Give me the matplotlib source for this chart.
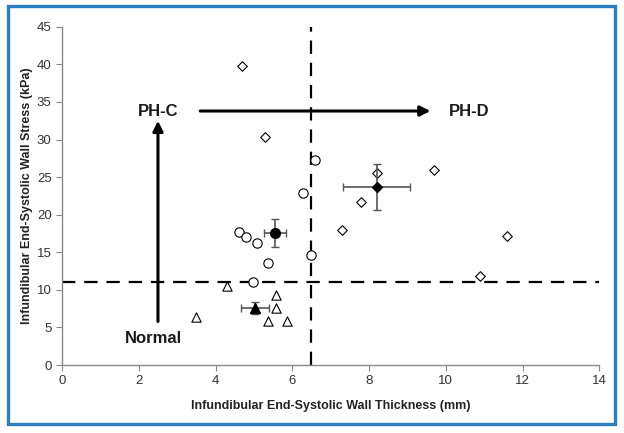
import matplotlib
matplotlib.use("Agg")
import matplotlib.pyplot as plt
from matplotlib.patches import Rectangle

plt.rcParams['font.family'] = ['Liberation Sans', 'DejaVu Sans']

# Data
diamond_x = [4.7, 5.3, 8.2, 7.8, 7.3, 9.7, 11.6, 10.9]
diamond_y = [39.8, 30.3, 25.5, 21.7, 18.0, 26.0, 17.2, 11.8]
circle_x = [6.58, 6.27, 4.6, 4.79, 5.08, 5.38, 6.48, 4.97]
circle_y = [27.3, 22.9, 17.75, 17.0, 16.3, 13.6, 14.7, 11.1]
triangle_x = [4.29, 5.58, 5.58, 5.38, 5.87, 3.48]
triangle_y = [10.56, 9.27, 7.59, 5.9, 5.9, 6.35]

# Group means with error bars: (x, y, xerr, yerr)
mean_diamond = (8.2, 23.7, 0.87, 3.1)
mean_circle = (5.55, 17.6, 0.28, 1.85)
mean_triangle = (5.03, 7.6, 0.37, 0.8)

thr_x = 6.5
thr_y = 11.0

x_ticks = [0, 2, 4, 6, 8, 10, 12, 14]
y_ticks = [0, 5, 10, 15, 20, 25, 30, 35, 40, 45]

fig = plt.figure(figsize=(6.24, 4.33), dpi=100)
ax = fig.add_axes([0.0994, 0.157, 0.861, 0.781])

# Threshold dashed lines
ax.plot([0, 14], [thr_y, thr_y], color='black', linestyle=(0, (6, 4)), linewidth=1.6, zorder=1)
ax.plot([thr_x, thr_x], [0, 45], color='black', linestyle=(0, (6, 4)), linewidth=1.6, zorder=1)

# Individual points
ax.scatter(diamond_x, diamond_y, marker='D', s=24, facecolors='white', edgecolors='black', linewidths=0.8, zorder=3)
ax.scatter(circle_x, circle_y, marker='o', s=45, facecolors='white', edgecolors='black', linewidths=0.8, zorder=3)
ax.scatter(triangle_x, triangle_y, marker='^', s=45, facecolors='white', edgecolors='black', linewidths=0.8, zorder=3)

# Means with error bars
for (mx, my, ex, ey), mk, ms in [(mean_diamond, 'D', 5), (mean_circle, 'o', 7), (mean_triangle, '^', 7)]:
    ax.errorbar(mx, my, xerr=ex, yerr=ey, fmt=mk, color='black', markersize=ms,
                ecolor='#555555', elinewidth=1.2, capsize=3, capthick=1.0, zorder=4)

# Arrows
ax.annotate('', xy=(2.5, 32.5), xytext=(2.5, 5.8),
            arrowprops=dict(arrowstyle='-|>', color='black', lw=2.2, mutation_scale=15, shrinkA=0, shrinkB=0))
ax.annotate('', xy=(9.6, 33.8), xytext=(3.6, 33.8),
            arrowprops=dict(arrowstyle='-|>', color='black', lw=2.2, mutation_scale=15, shrinkA=0, shrinkB=0))

ax.text(2.5, 33.8, 'PH-C', fontsize=12, fontweight='bold', ha='center', va='center', color='#1a1a1a')
ax.text(10.6, 33.8, 'PH-D', fontsize=12, fontweight='bold', ha='center', va='center', color='#1a1a1a')
ax.text(2.38, 3.5, 'Normal', fontsize=12, fontweight='bold', ha='center', va='center', color='#1a1a1a')

ax.set_xlim(0, 14)
ax.set_ylim(0, 45)
ax.set_xticks(x_ticks)
ax.set_yticks(y_ticks)
ax.spines['top'].set_visible(False)
ax.spines['right'].set_visible(False)
for s in ['left', 'bottom']:
    ax.spines[s].set_color('#888888')
    ax.spines[s].set_linewidth(1.0)
ax.tick_params(axis='both', direction='out', length=4, color='#888888', labelsize=9.5, labelcolor='#333333')

ax.set_xlabel('Infundibular End-Systolic Wall Thickness (mm)', fontsize=9, fontweight='bold', color='#222222', labelpad=9)
ax.set_ylabel('Infundibular End-Systolic Wall Stress (kPa)', fontsize=9, fontweight='bold', color='#222222', labelpad=3)

# Blue frame around the figure
fig.patches.append(Rectangle((0.0128, 0.021), 0.973, 0.965, transform=fig.transFigure,
                             fill=False, edgecolor='#2a7fc1', linewidth=2.4))

fig.savefig('out.png', dpi=100)
